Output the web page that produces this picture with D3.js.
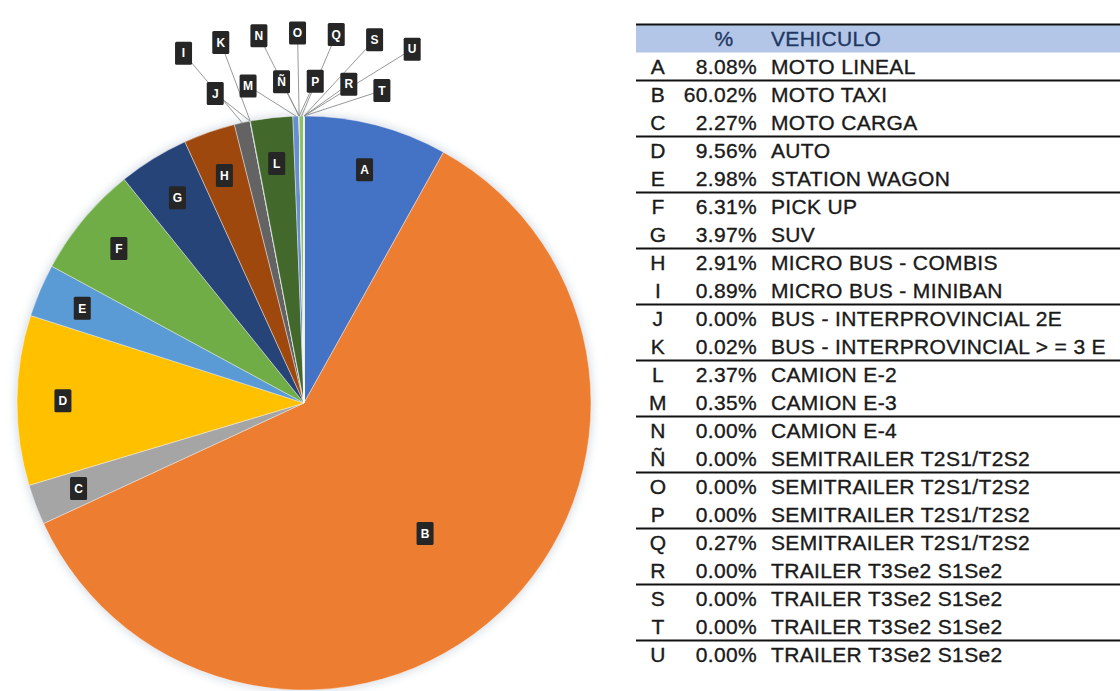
<!DOCTYPE html>
<html>
<head>
<meta charset="utf-8">
<script src="https://cdn.jsdelivr.net/npm/d3@7"></script>
<style>
  html, body { margin: 0; padding: 0; background: #fff; }
  svg { display: block; }
</style>
</head>
<body>
<div id="chart"></div>
<script>
// categories (letter codes), shares in % and vehicle names
const letters = ["A","B","C","D","E","F","G","H","I","J","K","L","M","N","Ñ","O","P","Q","R","S","T","U"];
const percents = [8.08, 60.02, 2.27, 9.56, 2.98, 6.31, 3.97, 2.91, 0.89, 0.00, 0.02,
                  2.37, 0.35, 0.00, 0.00, 0.00, 0.00, 0.27, 0.00, 0.00, 0.00, 0.00];
const vehicles = [
  "MOTO LINEAL", "MOTO TAXI", "MOTO CARGA", "AUTO", "STATION WAGON", "PICK UP", "SUV",
  "MICRO BUS - COMBIS", "MICRO BUS - MINIBAN", "BUS - INTERPROVINCIAL 2E",
  "BUS - INTERPROVINCIAL > = 3 E", "CAMION E-2", "CAMION E-3", "CAMION E-4",
  "SEMITRAILER T2S1/T2S2", "SEMITRAILER T2S1/T2S2", "SEMITRAILER T2S1/T2S2",
  "SEMITRAILER T2S1/T2S2", "TRAILER T3Se2 S1Se2", "TRAILER T3Se2 S1Se2",
  "TRAILER T3Se2 S1Se2", "TRAILER T3Se2 S1Se2"
];
const headerLabels = ["%", "VEHICULO"];
const sliceColors = [
  "#4472C4", "#ED7D31", "#A5A5A5", "#FFC000", "#5B9BD5", "#70AD47",
  "#264478", "#9E480E", "#636363", "#997300", "#255E91", "#43682B",
  "#698ED0", "#F1975A", "#B7B7B7", "#FFCD33", "#7CAFDD", "#8CC168",
  "#3A5DA0", "#C55A11", "#7B7B7B", "#BF9000"
];

const width = 1120, height = 691;
const data = letters.map((l, i) => ({ letter: l, value: percents[i], name: vehicles[i], color: sliceColors[i] }));

const svg = d3.select("#chart").append("svg")
    .attr("width", width)
    .attr("height", height);

const defs = svg.append("defs");
defs.append("filter").attr("id", "glow")
    .attr("x", "-10%").attr("y", "-10%").attr("width", "120%").attr("height", "120%")
  .append("feGaussianBlur").attr("stdDeviation", 4);

// ---- pie ----
const cx = 304, cy = 403, radius = 287;
const pieG = svg.append("g").attr("transform", `translate(${cx},${cy})`);

pieG.append("circle")
    .attr("r", radius + 2)
    .attr("fill", "#c9d2dc")
    .attr("opacity", 0.7)
    .attr("filter", "url(#glow)");

const pie = d3.pie().sort(null).value(d => d.value);
const arcs = pie(data);
const arc = d3.arc().innerRadius(0).outerRadius(radius);

pieG.selectAll("path.slice")
    .data(arcs)
    .join("path")
    .attr("class", "slice")
    .attr("d", arc)
    .attr("fill", d => d.data.color)
    .attr("stroke", "#ffffff")
    .attr("stroke-opacity", 0.5)
    .attr("stroke-width", 0.8);

const midAngle = d => (d.startAngle + d.endAngle) / 2;
const polar = (a, r) => [r * Math.sin(a), -r * Math.cos(a)];

// labels inside for the bigger slices, callouts for the small ones
const inside = arcs.filter(d => d.data.value >= 1);
const outside = arcs.filter(d => d.data.value < 1);

inside.forEach(d => {
  const span = d.endAngle - d.startAngle;
  const r = span > Math.PI / 2 ? radius * 0.62 : radius * 0.84;
  [d.lx, d.ly] = polar(midAngle(d), r);
});

// callouts fan out above the pie in two staggered rows
outside.forEach((d, k) => {
  const a = (-19 + 3 * k) * Math.PI / 180;
  const r = k % 2 === 0 ? 370 : 322;
  [d.lx, d.ly] = polar(a, r);
});

pieG.selectAll("line.leader")
    .data(outside)
    .join("line")
    .attr("class", "leader")
    .attr("x1", d => polar(midAngle(d), radius)[0])
    .attr("y1", d => polar(midAngle(d), radius)[1])
    .attr("x2", d => d.lx)
    .attr("y2", d => d.ly)
    .attr("stroke", "#8c8c8c")
    .attr("stroke-width", 0.9);

const labelG = pieG.selectAll("g.lbl")
    .data(inside.concat(outside))
    .join("g")
    .attr("class", "lbl")
    .attr("transform", d => `translate(${d.lx},${d.ly})`);

labelG.append("rect")
    .attr("x", -8.5).attr("y", -11.5)
    .attr("width", 17).attr("height", 23)
    .attr("rx", 1.5)
    .attr("fill", "#262626");

labelG.append("text")
    .attr("text-anchor", "middle")
    .attr("dy", "0.36em")
    .attr("fill", "#ffffff")
    .style("font-family", "'Liberation Sans', Arial, sans-serif")
    .style("font-weight", "bold")
    .style("font-size", "12px")
    .text(d => d.data.letter);

// ---- table ----
const tableX0 = 636, tableX1 = width;
const rowY = d3.scaleLinear().domain([0, letters.length - 1]).range([66.5, 654.5]);
const rowH = rowY(1) - rowY(0);
const colLetter = 658, colPctEnd = 757, colName = 771, colPctHead = 724;
const fontStyle = sel => sel
    .style("font-family", "'Liberation Sans', Arial, sans-serif")
    .style("font-size", "21px")
    .style("letter-spacing", "0.35px")
    .attr("stroke-width", 0.35);

const table = svg.append("g");

table.append("rect")
    .attr("x", tableX0).attr("y", rowY(-1) - rowH / 2)
    .attr("width", tableX1 - tableX0).attr("height", rowH)
    .attr("fill", "#B4C6E7");

table.append("line")
    .attr("x1", tableX0).attr("x2", tableX1)
    .attr("y1", rowY(-1) - rowH / 2).attr("y2", rowY(-1) - rowH / 2)
    .attr("stroke", "#111").attr("stroke-width", 2);

table.append("text")
    .attr("x", colPctHead).attr("y", rowY(-1))
    .attr("dy", "0.36em").attr("text-anchor", "middle")
    .attr("fill", "#1F3864").attr("stroke", "#1F3864")
    .call(fontStyle)
    .text(headerLabels[0]);

table.append("text")
    .attr("x", colName).attr("y", rowY(-1))
    .attr("dy", "0.36em")
    .attr("fill", "#1F3864").attr("stroke", "#1F3864")
    .call(fontStyle)
    .text(headerLabels[1]);

const rows = table.selectAll("g.row")
    .data(data)
    .join("g")
    .attr("class", "row")
    .attr("transform", (d, i) => `translate(0,${rowY(i)})`);

rows.append("text")
    .attr("x", colLetter).attr("dy", "0.36em").attr("text-anchor", "middle")
    .attr("fill", "#1a1a1a").attr("stroke", "#1a1a1a")
    .call(fontStyle)
    .text(d => d.letter);

rows.append("text")
    .attr("x", colPctEnd).attr("dy", "0.36em").attr("text-anchor", "end")
    .attr("fill", "#1a1a1a").attr("stroke", "#1a1a1a")
    .call(fontStyle)
    .text(d => d.value.toFixed(2) + "%");

rows.append("text")
    .attr("x", colName).attr("dy", "0.36em")
    .attr("fill", "#1a1a1a").attr("stroke", "#1a1a1a")
    .call(fontStyle)
    .text(d => d.name);

// separator after every second row
table.selectAll("line.sep")
    .data(d3.range(0, letters.length - 1, 2))
    .join("line")
    .attr("class", "sep")
    .attr("x1", tableX0).attr("x2", tableX1)
    .attr("y1", i => rowY(i) + rowH / 2)
    .attr("y2", i => rowY(i) + rowH / 2)
    .attr("stroke", "#111").attr("stroke-width", 2);
</script>
</body>
</html>
